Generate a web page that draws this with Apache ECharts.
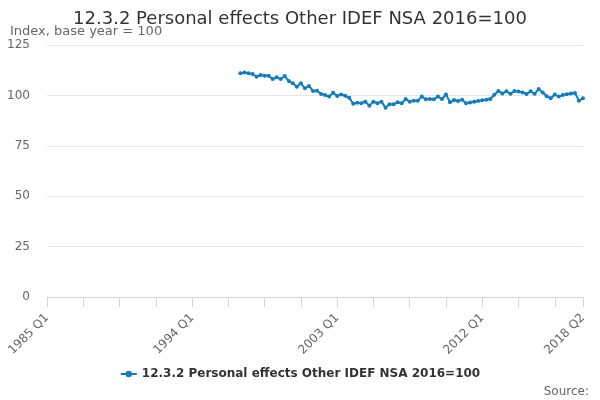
<!DOCTYPE html>
<html>
<head>
<meta charset="utf-8">
<title>12.3.2 Personal effects Other IDEF NSA 2016=100</title>
<script src="https://cdn.jsdelivr.net/npm/echarts@6/dist/echarts.min.js"></script>
<style>
  html, body { margin: 0; padding: 0; background: #fff; }
  #chart { width: 600px; height: 400px; }
</style>
</head>
<body>
<div id="chart"></div>
<script>
// quarters 1985 Q1 .. 2018 Q2
var firstYear = 1985;
var lastYear = 2018;
var lastQuarter = 2;

// series starts at 1997 Q1
var startQuarter = '1997 Q1';
var values = [
	111.0, 111.3, 111.0, 110.6, 109.3, 110.1, 109.8, 109.8, 108.1, 109.0, 108.1, 109.6,
	107.1, 106.0, 104.3, 106.0, 103.5, 104.7, 102.2, 102.3, 100.7, 100.2, 99.4, 101.3,
	99.7, 100.5, 99.8, 98.8, 95.8, 96.4, 96.1, 96.9, 94.9, 96.9, 96.1, 96.9,
	93.9, 95.6, 95.6, 96.6, 96.1, 98.2, 96.9, 97.4, 97.4, 99.4, 98.1, 98.2,
	98.1, 99.4, 98.2, 100.5, 96.6, 97.7, 97.2, 97.8, 96.1, 96.5, 96.8, 97.2,
	97.6, 97.8, 98.2, 100.3, 102.2, 101.0, 102.0, 100.8, 102.2, 101.9, 101.5, 100.7,
	102.0, 100.8, 103.2, 101.4, 99.6, 98.6, 100.4, 99.4, 100.2, 100.6, 101.0, 101.2,
	97.4, 98.6
];

var seriesName = '12.3.2 Personal effects Other IDEF NSA 2016=100';

// build category list
var quarters = [];
for (var y = firstYear; y <= lastYear; y++) {
	for (var q = 1; q <= 4; q++) {
		if (y == lastYear && q > lastQuarter) break;
		quarters.push(y + ' Q' + q);
	}
}
var lastIdx = quarters.length - 1;

// pad with nulls before the first value
var data = [];
var offset = quarters.indexOf(startQuarter);
for (var i = 0; i < quarters.length; i++) {
	data.push(i < offset ? null : values[i - offset]);
}

var font = 'DejaVu Sans';
var myChart = echarts.init(document.getElementById('chart'));
var option = {
	animation: false,
	title: [{
		text: seriesName,
		left: 'center',
		top: 10,
		padding: 0,
		textStyle: { fontFamily: font, fontSize: 18, fontWeight: 'normal', color: '#333' }
	}, {
		text: 'Index, base year = 100',
		left: 10,
		top: 25,
		padding: 0,
		textStyle: { fontFamily: font, fontSize: 13, fontWeight: 'normal', color: '#666' }
	}, {
		text: 'Source:',
		right: 11,
		top: 386,
		padding: 0,
		textStyle: { fontFamily: font, fontSize: 12, fontWeight: 'normal', color: '#666' }
	}],
	grid: { left: 47, right: 17, top: 45, bottom: 103 },
	legend: {
		bottom: 15,
		left: 'center',
		itemWidth: 16,
		itemHeight: 8,
		textStyle: { fontFamily: font, fontSize: 12, fontWeight: 'bold', color: '#333' },
		data: [seriesName]
	},
	xAxis: {
		type: 'category',
		data: quarters,
		boundaryGap: false,
		axisLine: { lineStyle: { color: '#ccd6eb' } },
		axisTick: {
			length: 10,
			lineStyle: { color: '#ccd6eb' },
			interval: function (i) { return i % 9 == 0 || i == lastIdx; }
		},
		axisLabel: {
			rotate: 45,
			margin: 19,
			color: '#666',
			fontFamily: font,
			fontSize: 12,
			interval: function (i) { return i % 36 == 0 || i == lastIdx; }
		}
	},
	yAxis: {
		type: 'value',
		min: 0,
		max: 125,
		interval: 25,
		axisLine: { show: false },
		axisTick: { show: false },
		splitLine: { lineStyle: { color: '#e6e6e6' } },
		axisLabel: { color: '#666', fontFamily: font, fontSize: 12, margin: 17 }
	},
	series: [{
		name: seriesName,
		type: 'line',
		data: data,
		color: '#0e7dc2',
		symbol: 'circle',
		symbolSize: 4,
		showAllSymbol: true,
		lineStyle: { width: 2 },
		connectNulls: false
	}]
};
myChart.setOption(option);
</script>
</body>
</html>
